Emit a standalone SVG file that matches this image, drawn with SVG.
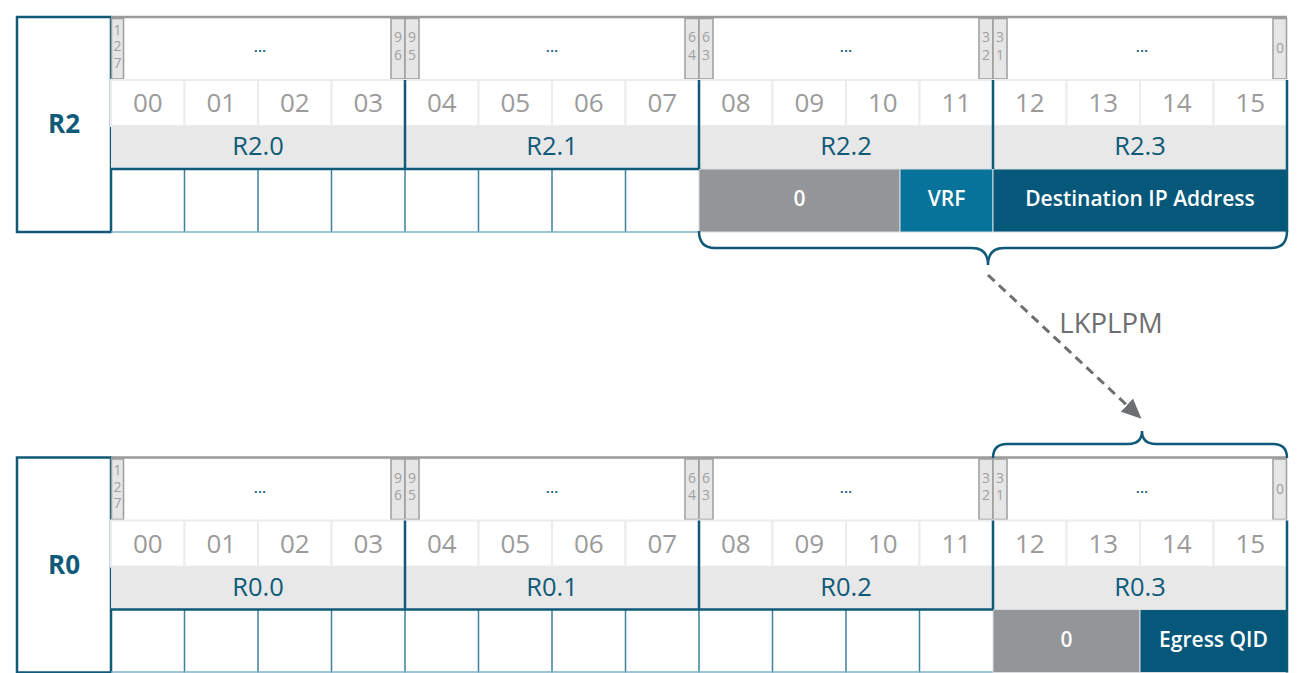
<svg xmlns="http://www.w3.org/2000/svg" width="1305" height="673" viewBox="0 0 1305 673">
<defs>
<style>
.reg{fill:#fff;stroke:#0f5a78;stroke-width:2.5}
.regt{font-family:"Open Sans",sans-serif;font-weight:700;font-size:26px;fill:#0f5a78;text-anchor:middle}
.topline{stroke:#9a9a9a;stroke-width:2.5}
.bit{fill:#e6e6e6;stroke:#9d9d9d;stroke-width:1.5}
.bitt{font-family:"Open Sans",sans-serif;font-size:14px;fill:#a0a0a0;text-anchor:middle}
.ell{font-family:"Open Sans",sans-serif;font-size:15px;font-weight:600;fill:#0f5a78;text-anchor:middle}
.num{fill:#fff;stroke:#ececec;stroke-width:2}
.numt{font-family:"Open Sans",sans-serif;font-size:26px;fill:#9b9b9b;text-anchor:middle}
.lab{fill:#e8e8e8}
.labt{font-family:"Open Sans",sans-serif;font-size:25.5px;fill:#0f5a78;text-anchor:middle}
.grp{stroke:#0f5a78;stroke-width:2.5;fill:none}
.cell{stroke:#3f819c;stroke-width:1.5;fill:none}
.cellb{stroke:#7fb1c4;stroke-width:1.5;fill:none}
.zero{fill:#939598;stroke:#d9dde0;stroke-width:1}
.vrf{fill:#08739a;stroke:#d9dde0;stroke-width:1}
.dip{fill:#05587a;stroke:#d9dde0;stroke-width:1}
.wt{font-family:"Open Sans",sans-serif;font-size:21px;font-weight:600;fill:#fff;text-anchor:middle}
.brace{fill:none;stroke:#0f5a78;stroke-width:2.5}
.arrow{fill:none;stroke:#6d6e71;stroke-width:3;stroke-dasharray:9 6}
.lk{font-family:"Open Sans",sans-serif;font-size:27.5px;fill:#6d6e71;text-anchor:middle}
</style>
<marker id="ah" markerUnits="userSpaceOnUse" markerWidth="20" markerHeight="18" viewBox="0 0 20 18" refX="18" refY="9" orient="auto"><path d="M0,0 L20,9 L0,18 z" fill="#6d6e71"/></marker>
</defs>

<g id="R2">
  <rect class="reg" x="17" y="17" width="94" height="215"/>
  <text class="regt" x="64" y="133">R2</text>
  <rect x="111" y="17" width="1176" height="63" fill="#fff"/>
  <line class="topline" x1="111" y1="17" x2="1287" y2="17"/>
  <rect class="bit" x="111.5" y="18.5" width="12" height="60.5"/>
  <text class="bitt"><tspan x="117.5" y="34.5">1</tspan><tspan x="117.5" y="51">2</tspan><tspan x="117.5" y="67.5">7</tspan></text>
  <rect class="bit" x="391" y="18.5" width="14" height="60.5"/>
  <text class="bitt"><tspan x="398" y="42">9</tspan><tspan x="398" y="59.5">6</tspan></text>
  <rect class="bit" x="405" y="18.5" width="14" height="60.5"/>
  <text class="bitt"><tspan x="412" y="42">9</tspan><tspan x="412" y="59.5">5</tspan></text>
  <rect class="bit" x="685" y="18.5" width="14" height="60.5"/>
  <text class="bitt"><tspan x="692" y="42">6</tspan><tspan x="692" y="59.5">4</tspan></text>
  <rect class="bit" x="699" y="18.5" width="14" height="60.5"/>
  <text class="bitt"><tspan x="706" y="42">6</tspan><tspan x="706" y="59.5">3</tspan></text>
  <rect class="bit" x="979" y="18.5" width="14" height="60.5"/>
  <text class="bitt"><tspan x="986" y="42">3</tspan><tspan x="986" y="59.5">2</tspan></text>
  <rect class="bit" x="993" y="18.5" width="14" height="60.5"/>
  <text class="bitt"><tspan x="1000" y="42">3</tspan><tspan x="1000" y="59.5">1</tspan></text>
  <rect class="bit" x="1273" y="18.5" width="13.5" height="60.5"/>
  <text class="bitt" x="1280" y="53">0</text>
  <text class="ell" x="260" y="52">...</text>
  <text class="ell" x="552" y="52">...</text>
  <text class="ell" x="846" y="52">...</text>
  <text class="ell" x="1142" y="52">...</text>
  <rect class="num" x="111" y="80" width="73.5" height="46"/>
  <rect class="num" x="184.5" y="80" width="73.5" height="46"/>
  <rect class="num" x="258" y="80" width="73.5" height="46"/>
  <rect class="num" x="331.5" y="80" width="73.5" height="46"/>
  <rect class="num" x="405" y="80" width="73.5" height="46"/>
  <rect class="num" x="478.5" y="80" width="73.5" height="46"/>
  <rect class="num" x="552" y="80" width="73.5" height="46"/>
  <rect class="num" x="625.5" y="80" width="73.5" height="46"/>
  <rect class="num" x="699" y="80" width="73.5" height="46"/>
  <rect class="num" x="772.5" y="80" width="73.5" height="46"/>
  <rect class="num" x="846" y="80" width="73.5" height="46"/>
  <rect class="num" x="919.5" y="80" width="73.5" height="46"/>
  <rect class="num" x="993" y="80" width="73.5" height="46"/>
  <rect class="num" x="1066.5" y="80" width="73.5" height="46"/>
  <rect class="num" x="1140" y="80" width="73.5" height="46"/>
  <rect class="num" x="1213.5" y="80" width="73.5" height="46"/>
  <text class="numt" y="112"><tspan x="147.75">00</tspan><tspan x="221.25">01</tspan><tspan x="294.75">02</tspan><tspan x="368.25">03</tspan><tspan x="441.75">04</tspan><tspan x="515.25">05</tspan><tspan x="588.75">06</tspan><tspan x="662.25">07</tspan><tspan x="735.75">08</tspan><tspan x="809.25">09</tspan><tspan x="882.75">10</tspan><tspan x="956.25">11</tspan><tspan x="1029.75">12</tspan><tspan x="1103.25">13</tspan><tspan x="1176.75">14</tspan><tspan x="1250.25">15</tspan></text>
  <rect class="lab" x="111" y="126" width="1176" height="43"/>
  <text class="labt" x="258" y="155">R2.0</text>
  <text class="labt" x="552" y="155">R2.1</text>
  <text class="labt" x="846" y="155">R2.2</text>
  <text class="labt" x="1140" y="155">R2.3</text>
  <path class="cell" d="M184.5,169V232 M258,169V232 M331.5,169V232 M405,169V232 M478.5,169V232 M552,169V232 M625.5,169V232"/>
  <path class="cellb" d="M111,232H699"/>
  <rect class="zero" x="699" y="169" width="201" height="63"/>
  <rect class="vrf" x="900" y="169" width="93" height="63"/>
  <rect class="dip" x="993" y="169" width="294" height="63"/>
  <text class="wt" x="799.5" y="206">0</text>
  <text class="wt" x="946.5" y="206">VRF</text>
  <text class="wt" x="1140" y="206">Destination IP Address</text>
  <path class="grp" d="M405,80V169 M699,80V169 M993,80V169 M1287,80V232 M111,169H699"/>
</g>

<g id="R0" transform="translate(0,440.5)">
  <rect class="reg" x="17" y="17" width="94" height="215"/>
  <text class="regt" x="64" y="133">R0</text>
  <rect x="111" y="17" width="1176" height="63" fill="#fff"/>
  <line class="topline" x1="111" y1="17" x2="1287" y2="17"/>
  <rect class="bit" x="111.5" y="18.5" width="12" height="60.5"/>
  <text class="bitt"><tspan x="117.5" y="34.5">1</tspan><tspan x="117.5" y="51">2</tspan><tspan x="117.5" y="67.5">7</tspan></text>
  <rect class="bit" x="391" y="18.5" width="14" height="60.5"/>
  <text class="bitt"><tspan x="398" y="42">9</tspan><tspan x="398" y="59.5">6</tspan></text>
  <rect class="bit" x="405" y="18.5" width="14" height="60.5"/>
  <text class="bitt"><tspan x="412" y="42">9</tspan><tspan x="412" y="59.5">5</tspan></text>
  <rect class="bit" x="685" y="18.5" width="14" height="60.5"/>
  <text class="bitt"><tspan x="692" y="42">6</tspan><tspan x="692" y="59.5">4</tspan></text>
  <rect class="bit" x="699" y="18.5" width="14" height="60.5"/>
  <text class="bitt"><tspan x="706" y="42">6</tspan><tspan x="706" y="59.5">3</tspan></text>
  <rect class="bit" x="979" y="18.5" width="14" height="60.5"/>
  <text class="bitt"><tspan x="986" y="42">3</tspan><tspan x="986" y="59.5">2</tspan></text>
  <rect class="bit" x="993" y="18.5" width="14" height="60.5"/>
  <text class="bitt"><tspan x="1000" y="42">3</tspan><tspan x="1000" y="59.5">1</tspan></text>
  <rect class="bit" x="1273" y="18.5" width="13.5" height="60.5"/>
  <text class="bitt" x="1280" y="53">0</text>
  <text class="ell" x="260" y="52">...</text>
  <text class="ell" x="552" y="52">...</text>
  <text class="ell" x="846" y="52">...</text>
  <text class="ell" x="1142" y="52">...</text>
  <rect class="num" x="111" y="80" width="73.5" height="46"/>
  <rect class="num" x="184.5" y="80" width="73.5" height="46"/>
  <rect class="num" x="258" y="80" width="73.5" height="46"/>
  <rect class="num" x="331.5" y="80" width="73.5" height="46"/>
  <rect class="num" x="405" y="80" width="73.5" height="46"/>
  <rect class="num" x="478.5" y="80" width="73.5" height="46"/>
  <rect class="num" x="552" y="80" width="73.5" height="46"/>
  <rect class="num" x="625.5" y="80" width="73.5" height="46"/>
  <rect class="num" x="699" y="80" width="73.5" height="46"/>
  <rect class="num" x="772.5" y="80" width="73.5" height="46"/>
  <rect class="num" x="846" y="80" width="73.5" height="46"/>
  <rect class="num" x="919.5" y="80" width="73.5" height="46"/>
  <rect class="num" x="993" y="80" width="73.5" height="46"/>
  <rect class="num" x="1066.5" y="80" width="73.5" height="46"/>
  <rect class="num" x="1140" y="80" width="73.5" height="46"/>
  <rect class="num" x="1213.5" y="80" width="73.5" height="46"/>
  <text class="numt" y="112"><tspan x="147.75">00</tspan><tspan x="221.25">01</tspan><tspan x="294.75">02</tspan><tspan x="368.25">03</tspan><tspan x="441.75">04</tspan><tspan x="515.25">05</tspan><tspan x="588.75">06</tspan><tspan x="662.25">07</tspan><tspan x="735.75">08</tspan><tspan x="809.25">09</tspan><tspan x="882.75">10</tspan><tspan x="956.25">11</tspan><tspan x="1029.75">12</tspan><tspan x="1103.25">13</tspan><tspan x="1176.75">14</tspan><tspan x="1250.25">15</tspan></text>
  <rect class="lab" x="111" y="126" width="1176" height="43"/>
  <text class="labt" x="258" y="155">R0.0</text>
  <text class="labt" x="552" y="155">R0.1</text>
  <text class="labt" x="846" y="155">R0.2</text>
  <text class="labt" x="1140" y="155">R0.3</text>
  <path class="cell" d="M184.5,169V232 M258,169V232 M331.5,169V232 M405,169V232 M478.5,169V232 M552,169V232 M625.5,169V232 M699,169V232 M772.5,169V232 M846,169V232 M919.5,169V232"/>
  <path class="cellb" d="M111,231.5H993"/>
  <rect class="zero" x="993" y="169" width="147" height="63"/>
  <rect class="dip" x="1140" y="169" width="147" height="63"/>
  <text class="wt" x="1066.5" y="206">0</text>
  <text class="wt" x="1213.5" y="206">Egress QID</text>
  <path class="grp" d="M405,80V169 M699,80V169 M993,80V169 M1287,80V232 M111,169H993"/>
</g>

<g id="connectors">
  <path class="brace" d="M699,231 Q699,248 715,248 H972 Q988,248 988,265 Q988,248 1004,248 H1271 Q1287,248 1287,231"/>
  <path class="brace" d="M993,458 Q993,444 1007,444 H1128 Q1142,444 1142,431 Q1142,444 1156,444 H1273 Q1287,444 1287,458"/>
  <line class="arrow" x1="988" y1="275" x2="1140" y2="417.5" marker-end="url(#ah)"/>
  <text class="lk" x="1111" y="333">LKPLPM</text>
</g>
</svg>
